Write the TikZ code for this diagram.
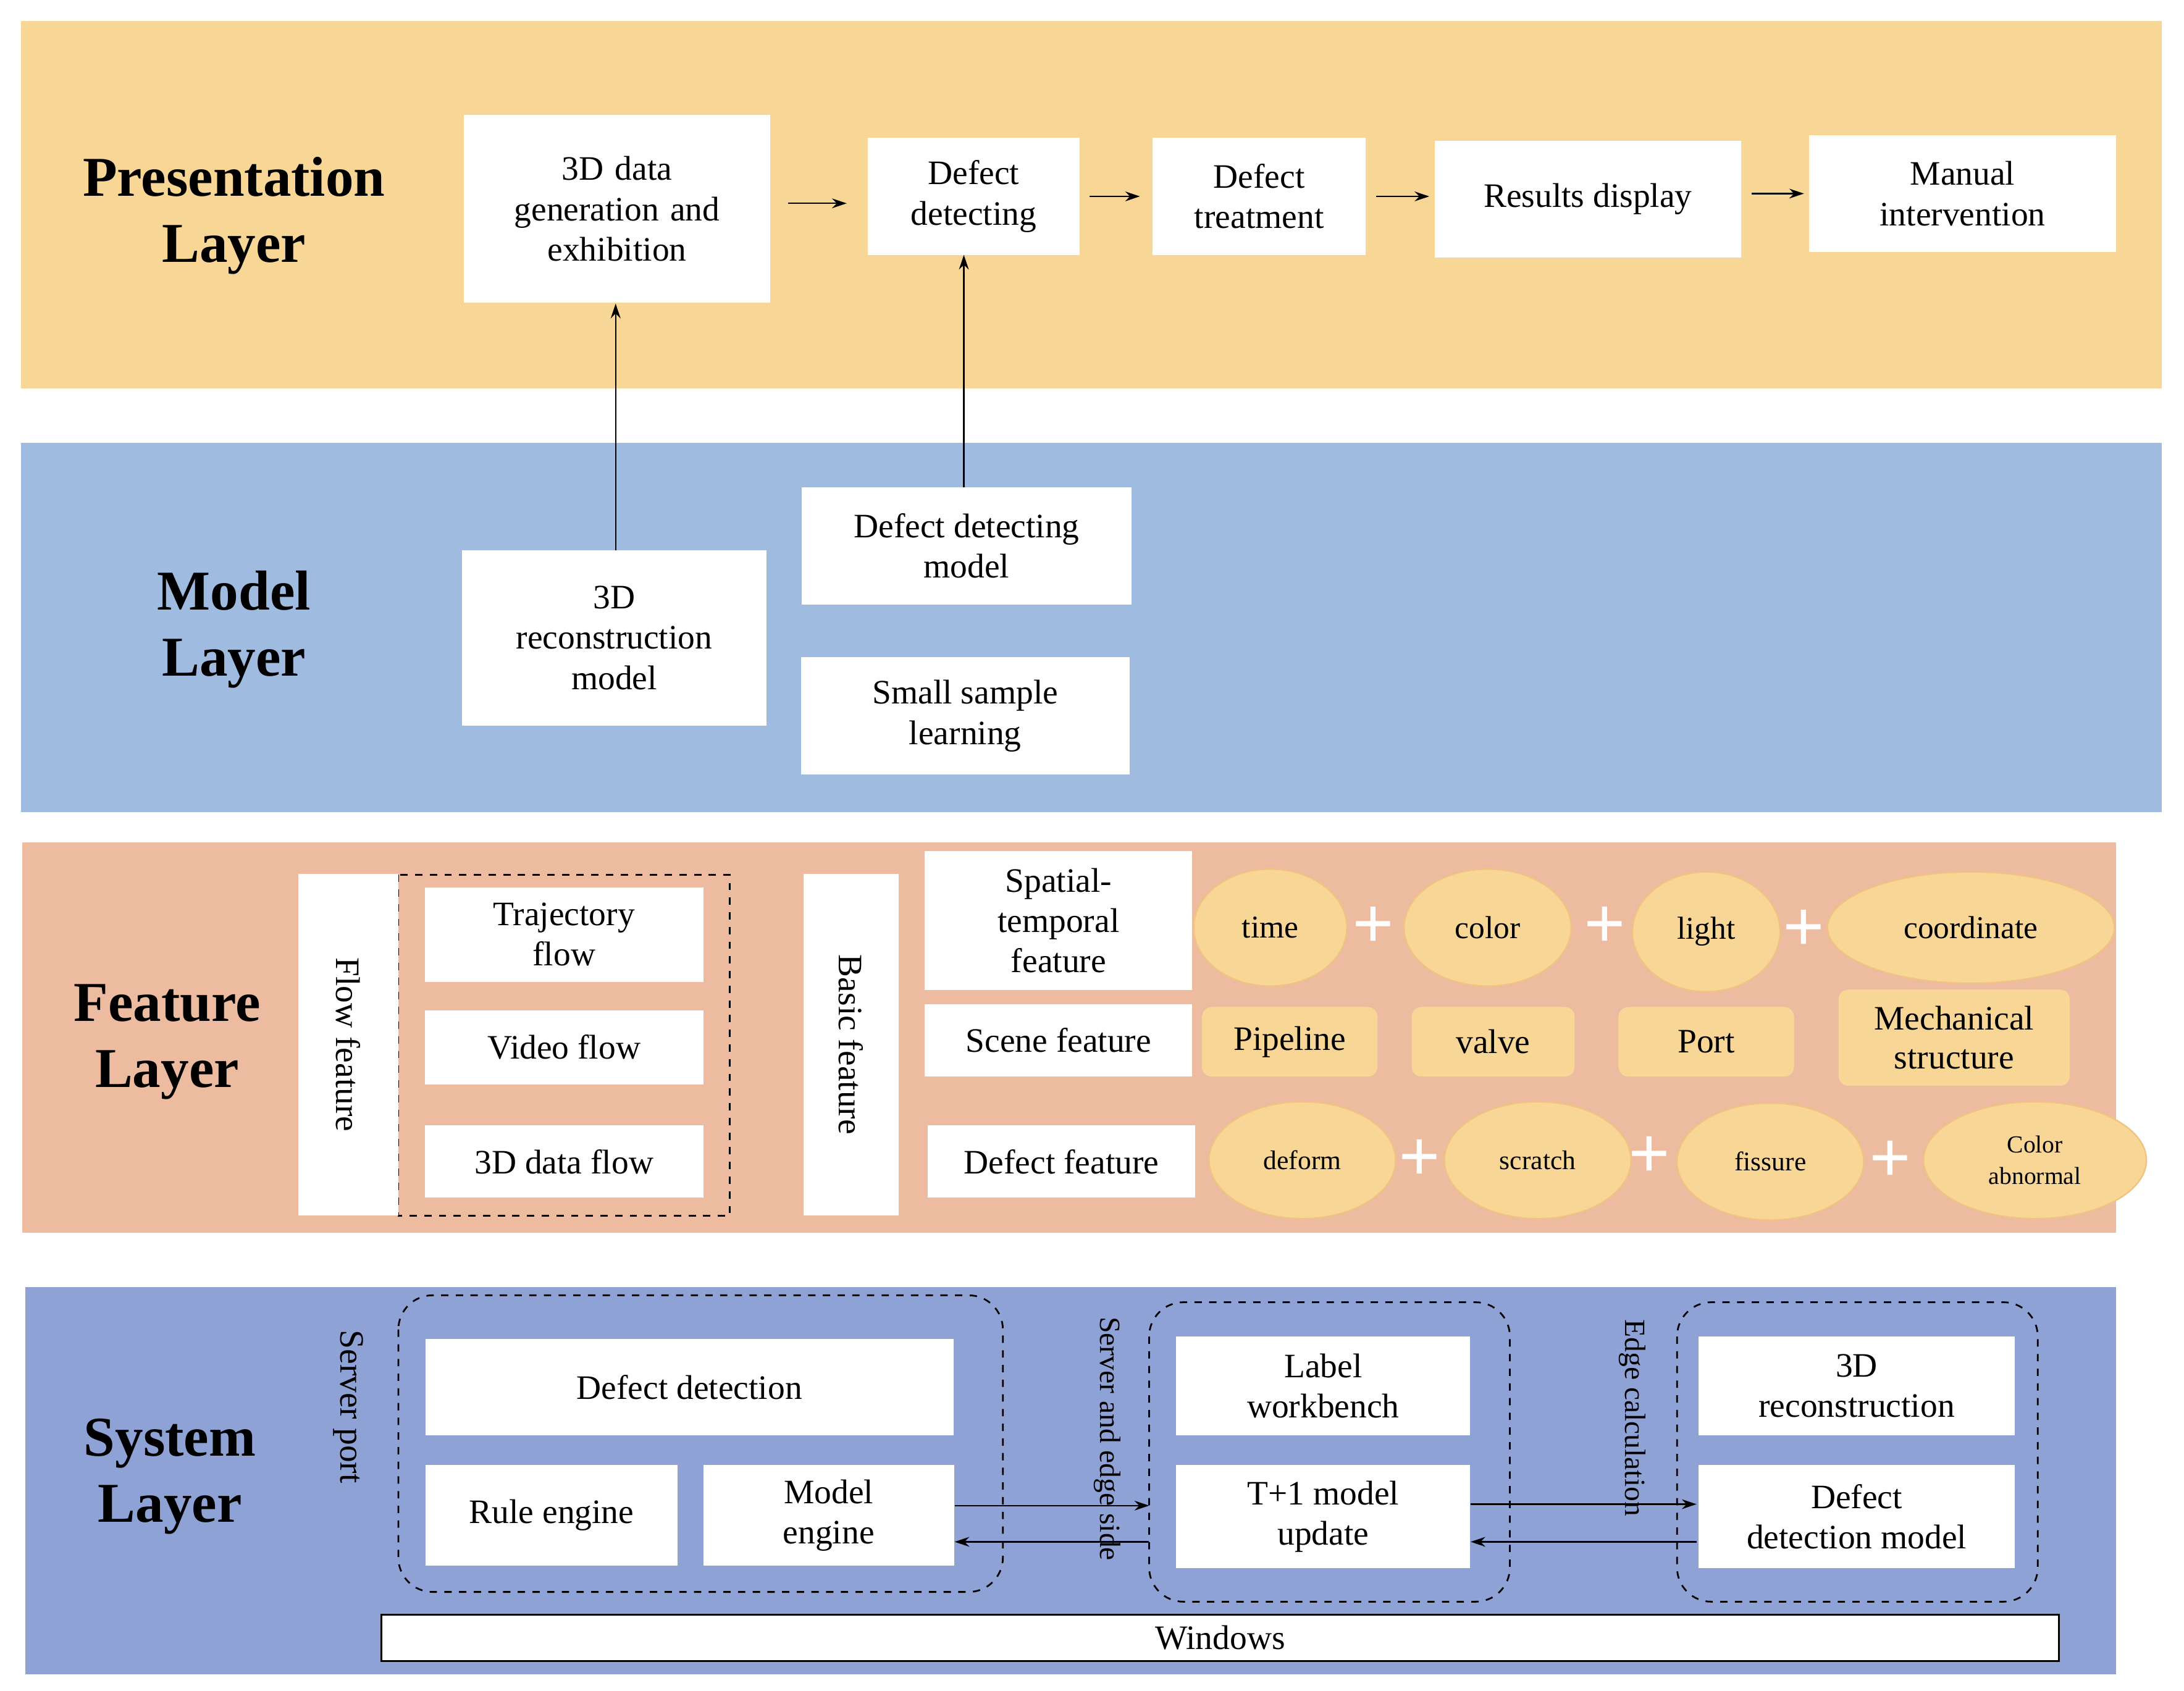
\documentclass[tikz,border=0pt]{standalone}
\usepackage{fontspec}
\setmainfont{Liberation Serif}
\usetikzlibrary{arrows.meta,shapes.geometric}
\definecolor{pres}{HTML}{F8D796}
\definecolor{modl}{HTML}{9FBBE0}
\definecolor{feat}{HTML}{EDBBA0}
\definecolor{syst}{HTML}{8EA2D6}
\definecolor{ell}{HTML}{F8D796}
\definecolor{ellb}{HTML}{F2C283}
\begin{document}
\begin{tikzpicture}[x=0.02cm,y=-0.02cm,
  box/.style={fill=white,draw=none,align=center,font=\fontsize{14}{16.5}\selectfont,inner sep=0pt},
  ttl/.style={align=center,font=\fontsize{23}{27}\selectfont\bfseries},
  el/.style={ellipse,fill=ell,draw=ellb,line width=0.6pt,inner sep=0pt,font=\fontsize{13}{15}\selectfont,align=center},
  rr/.style={rounded corners=4pt,fill=ell,draw=none,inner sep=0pt,font=\fontsize{14}{16}\selectfont,align=center},
  plus/.style={font=\fontsize{30}{30}\selectfont\bfseries,text=white,inner sep=0pt},
  arr/.style={-{Stealth[length=6pt,width=4pt]},line width=0.6pt},
  dbox/.style={draw,dashed,line width=0.7pt,rounded corners=14pt},
  vt/.style={rotate=-90,font=\fontsize{14}{16}\selectfont,inner sep=0pt}]
\useasboundingbox (0,0) rectangle (1568,1214);
\fill[white] (0,0) rectangle (1568,1214);
% bands
\fill[pres] (15,15) rectangle (1552,279);
\fill[modl] (15,318) rectangle (1552,583);
\fill[feat] (16,605) rectangle (1519,885);
\fill[syst] (18,924) rectangle (1519,1202);
% titles
\node[ttl] (t1) at (168,155) {Presentation\\Layer};
\node[ttl] (t2) at (168,452) {Model\\Layer};
\node[ttl] (t3) at (120,748) {Feature\\Layer};
\node[ttl] (t4) at (122,1060) {System\\Layer};
% presentation
\node[box,minimum width=220\pgflinewidth,text width=200*0.02cm,minimum width=220*0.02cm,minimum height=135*0.02cm] (A) at (443,150) {3D data\\generation and\\exhibition};
\node[box,minimum width=152*0.02cm,minimum height=84*0.02cm] (B) at (699,141) {Defect\\detecting};
\node[box,minimum width=153*0.02cm,minimum height=84*0.02cm] (C) at (904,141) {Defect\\treatment};
\node[box,minimum width=220*0.02cm,minimum height=84*0.02cm] (D) at (1140,143) {Results display};
\node[box,minimum width=220*0.02cm,minimum height=84*0.02cm] (E) at (1409,139) {Manual\\intervention};
\draw[arr,shorten <=12pt*0.6,shorten >=14pt*0.6] (A.east|-0,146) -- (B.west|-0,146);
\draw[arr,shorten <=4pt,shorten >=5pt] (B.east) -- (C.west);
\draw[arr,shorten <=4pt,shorten >=2pt] (C.east) -- (D.west|-C.east);
\draw[arr,shorten <=4pt,shorten >=2pt] (D.east|-0,139) -- (E.west);
% model
\node[box,minimum width=219*0.02cm,minimum height=126*0.02cm] (F) at (441,458) {3D\\reconstruction\\model};
\node[box,minimum width=237*0.02cm,minimum height=84*0.02cm] (G) at (694,392) {Defect detecting\\model};
\node[box,minimum width=236*0.02cm,minimum height=84*0.02cm] (H) at (693,514) {Small sample\\learning};
\draw[arr] (442,395) -- (442,218);
\draw[arr] (692,350) -- (692,183);
% feature
\draw[dashed,line width=0.7pt] (286,628) rectangle (524,873);
\node[box,minimum width=72*0.02cm,minimum height=245*0.02cm] (ff) at (250,750) {};
\node[vt] at (ff) {Flow feature};
\node[box,minimum width=200*0.02cm,minimum height=68*0.02cm] (tf) at (405,671) {Trajectory\\flow};
\node[box,minimum width=200*0.02cm,minimum height=53*0.02cm] (vf) at (405,752) {Video flow};
\node[box,minimum width=200*0.02cm,minimum height=52*0.02cm] (df) at (405,834) {3D data flow};
\node[box,minimum width=68*0.02cm,minimum height=245*0.02cm] (bf) at (611,750) {};
\node[vt] at (bf) {Basic feature};
\node[box,minimum width=192*0.02cm,minimum height=100*0.02cm] (st) at (760,661) {Spatial-\\temporal\\feature};
\node[box,minimum width=192*0.02cm,minimum height=52*0.02cm] (sf) at (760,747) {Scene feature};
\node[box,minimum width=192*0.02cm,minimum height=52*0.02cm] (dft) at (762,834) {Defect feature};
\node[el,minimum width=110*0.02cm,minimum height=84*0.02cm] (e1) at (912,666) {time};
\node[el,minimum width=120*0.02cm,minimum height=84*0.02cm] (e2) at (1068,666) {color};
\node[el,minimum width=106*0.02cm,minimum height=86*0.02cm] (e3) at (1225,669) {light};
\node[el,minimum width=206*0.02cm,minimum height=80*0.02cm] (e4) at (1415,666) {coordinate};
\node[plus] (p1) at (986,666) {+};
\node[plus] (p2) at (1152,666) {+};
\node[plus] (p3) at (1295,668) {+};
\node[rr,minimum width=126*0.02cm,minimum height=50*0.02cm] (r1) at (926,748) {Pipeline};
\node[rr,minimum width=117*0.02cm,minimum height=50*0.02cm] (r2) at (1072,748) {valve};
\node[rr,minimum width=126*0.02cm,minimum height=50*0.02cm] (r3) at (1225,748) {Port};
\node[rr,minimum width=166*0.02cm,minimum height=69*0.02cm] (r4) at (1403,745) {Mechanical\\structure};
\node[el,minimum width=134*0.02cm,minimum height=84*0.02cm,font=\fontsize{11}{13}\selectfont] (d1) at (935,833) {deform};
\node[el,minimum width=134*0.02cm,minimum height=84*0.02cm,font=\fontsize{11}{13}\selectfont] (d2) at (1104,833) {scratch};
\node[el,minimum width=134*0.02cm,minimum height=84*0.02cm,font=\fontsize{11}{13}\selectfont] (d3) at (1271,834) {fissure};
\node[el,minimum width=160*0.02cm,minimum height=84*0.02cm,font=\fontsize{10}{13}\selectfont] (d4) at (1461,833) {Color\\abnormal};
\node[plus] (p4) at (1019,833) {+};
\node[plus] (p5) at (1184,831) {+};
\node[plus] (p6) at (1357,834) {+};
% system
\draw[dbox] (286,930) rectangle (720,1143);
\draw[dbox] (825,935) rectangle (1084,1150);
\draw[dbox] (1204,935) rectangle (1463,1150);
\node[vt] (sp) at (250,1010) {Server port};
\node[vt,font=\fontsize{12}{14}\selectfont] (se) at (795,1033) {Server and edge side};
\node[vt,font=\fontsize{12}{14}\selectfont] (ec) at (1172,1018) {Edge calculation};
\node[box,minimum width=379*0.02cm,minimum height=69*0.02cm] (s1) at (495,996) {Defect detection};
\node[box,minimum width=181*0.02cm,minimum height=72*0.02cm] (s2) at (396,1088) {Rule engine};
\node[box,minimum width=180*0.02cm,minimum height=72*0.02cm] (s3) at (595,1088) {Model\\engine};
\node[box,minimum width=211*0.02cm,minimum height=71*0.02cm] (s4) at (950,995) {Label\\workbench};
\node[box,minimum width=211*0.02cm,minimum height=74*0.02cm] (s5) at (950,1089) {T+1 model\\update};
\node[box,minimum width=227*0.02cm,minimum height=71*0.02cm] (s6) at (1333,995) {3D\\reconstruction};
\node[box,minimum width=227*0.02cm,minimum height=74*0.02cm] (s7) at (1333,1089) {Defect\\detection model};
\node[box,draw=black,line width=0.8pt,minimum width=1204*0.02cm,minimum height=33*0.02cm] (w) at (876,1176) {Windows};
\draw[arr] (s3.east|-0,1081) -- (825,1081);
\draw[arr] (825,1107) -- (s3.east|-0,1107);
\draw[arr] (s5.east|-0,1080) -- (1218,1080);
\draw[arr] (1218,1107) -- (s5.east|-0,1107);
\end{tikzpicture}
\end{document}
